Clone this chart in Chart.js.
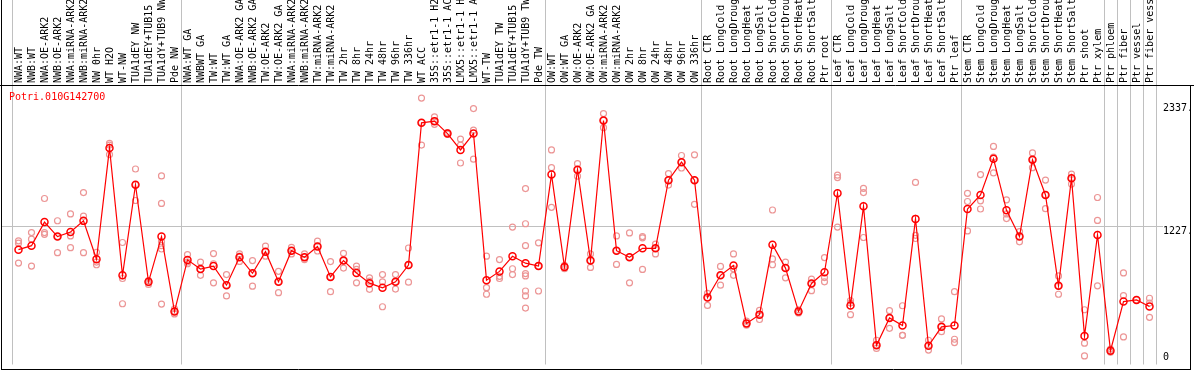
<!DOCTYPE html>
<html>
<head>
<meta charset="utf-8">
<script src="https://cdn.jsdelivr.net/npm/chart.js@4.4.1/dist/chart.umd.min.js"></script>
<style>
  html, body { margin: 0; padding: 0; background: #fff; }
  canvas { display: block; }
</style>
</head>
<body>
<canvas id="exprChart" width="1194" height="370"></canvas>
<script>
const geneName = 'Potri.010G142700';

const sampleLabels = [
  'NWA:WT', 'NWB:WT', 'NWA:OE-ARK2', 'NWB:OE-ARK2', 'NWA:miRNA-ARK2', 'NWB:miRNA-ARK2',
  'NW 0hr', 'WT H2O', 'WT-NW', 'TUA1dEY NW', 'TUA1dEY+TUB15', 'TUA1dY+TUB9 NW', 'Pde NW',
  'NWA:WT GA', 'NWBWT GA', 'TW:WT', 'TW:WT GA', 'NWA:OE-ARK2 GA', 'NWB:OE-ARK2 GA',
  'TW:OE-ARK2', 'TW:OE-ARK2 GA', 'NWA:miRNA-ARK2', 'NWB:miRNA-ARK2', 'TW:miRNA-ARK2', 'TW:miRNA-ARK2',
  'TW 2hr', 'TW 8hr', 'TW 24hr', 'TW 48hr', 'TW 96hr', 'TW 336hr', 'WT ACC',
  '35S::etr1-1 H2', '35S::etr1-1 AC', 'LMX5::etr1-1 H', 'LMX5::etr1-1 A', 'WT-TW',
  'TUA1dEY TW', 'TUA1dEY+TUB15', 'TUA1dY+TUB9 TW', 'Pde TW',
  'OW:WT', 'OW:WT GA', 'OW:OE-ARK2', 'OW:OE-ARK2 GA', 'OW:miRNA-ARK2', 'OW:miRNA-ARK2',
  'OW 2hr', 'OW 8hr', 'OW 24hr', 'OW 48hr', 'OW 96hr', 'OW 336hr',
  'Root CTR', 'Root LongCold', 'Root LongDroug', 'Root LongHeat', 'Root LongSalt',
  'Root ShortCold', 'Root ShortDrou', 'Root ShortHeat', 'Root ShortSalt', 'Ptr root',
  'Leaf CTR', 'Leaf LongCold', 'Leaf LongDroug', 'Leaf LongHeat', 'Leaf LongSalt',
  'Leaf ShortCold', 'Leaf ShortDrou', 'Leaf ShortHeat', 'Leaf ShortSalt', 'Ptr leaf',
  'Stem CTR', 'Stem LongCold', 'Stem LongDroug', 'Stem LongHeat', 'Stem LongSalt',
  'Stem ShortCold', 'Stem ShortDrou', 'Stem ShortHeat', 'Stem ShortSalt',
  'Ptr shoot', 'Ptr xylem', 'Ptr phloem', 'Ptr fiber', 'Ptr vessel', 'Ptr fiber vess'
];

const meanValues = [
  1014, 1050, 1263, 1132, 1174, 1274, 928, 1931, 783, 1600, 724, 1132, 457,
  922, 839, 866, 694, 946, 801, 996, 724, 1005, 946, 1043, 768, 916, 804, 712, 670, 724, 875,
  2159, 2174, 2062, 1914, 2062, 739, 818, 954, 892, 866,
  1692, 857, 1736, 916, 2180, 1005, 946, 1026, 1026, 1641, 1804, 1641,
  582, 783, 872, 348, 428, 1058, 848, 457, 709, 810,
  1523, 511, 1405, 152, 398, 330, 1292, 147, 318, 330,
  1381, 1508, 1834, 1369, 1132, 1825, 1508, 688, 1659, 235, 1147, 102, 546, 561, 502
];

// one small list of replicate values per sample
const replicateValues = [
  [1094, 1073, 893], [1168, 1109, 866], [1476, 1168, 1153], [1275, 1132, 987],
  [1337, 1138, 1032], [1529, 1316, 987], [990, 902, 878], [1973, 1958, 1872],
  [1079, 754, 526], [1742, 1600, 1458], [736, 715, 700],
  [1680, 1431, 1085, 1050, 1020, 523], [481, 458, 434],
  [970, 902, 887], [902, 837, 783], [979, 887, 715], [789, 694, 597],
  [976, 955, 908], [916, 801, 685], [1047, 996, 955], [819, 724, 626],
  [1035, 1005, 976], [976, 946, 925], [1091, 1044, 1002], [907, 768, 635],
  [981, 916, 848], [866, 837, 715], [760, 730, 656], [789, 724, 499],
  [789, 724, 659], [1029, 875, 721], [2382, 2160, 1958], [2213, 2174, 2145],
  [2071, 2062, 2056], [2012, 1958, 1796], [2287, 2092, 1831], [955, 671, 612],
  [925, 774, 754], [1218, 842, 789], [1565, 1248, 1050, 798, 777, 641, 597, 487],
  [1076, 866, 641],
  [1914, 1754, 1396], [872, 857, 842], [1790, 1736, 1677], [976, 916, 854],
  [2242, 2180, 2115], [1138, 1005, 881], [1165, 946, 715], [1132, 1121, 836],
  [1064, 1026, 976], [1701, 1642, 1597], [1864, 1804, 1751], [1870, 1642, 1423],
  [620, 582, 511], [863, 783, 694], [976, 842, 783], [369, 348, 333],
  [466, 428, 384], [1372, 931, 878], [902, 848, 760], [472, 458, 443],
  [748, 709, 644], [943, 762, 724],
  [1686, 1665, 1218], [555, 532, 428], [1568, 1529, 1124], [197, 153, 123],
  [464, 398, 304], [508, 241, 241], [1621, 1144, 1115], [197, 147, 108],
  [389, 318, 274], [635, 206, 176],
  [1523, 1449, 1183], [1692, 1455, 1381], [1946, 1849, 1707], [1464, 1337, 1295],
  [1177, 1132, 1085], [1887, 1825, 1754], [1642, 1508, 1384], [777, 688, 612],
  [1695, 1659, 1606], [472, 170, 55], [1485, 1278, 688], [117, 102, 88],
  [804, 600, 227], [561], [576, 532, 404]
];

// first sample of each block, a grey separator is drawn on its left
const groupStarts = [0, 13, 41, 53, 63, 73, 84, 85, 86, 87];

const yTickValues = [0, 1227, 2337];
const yTickLabels = ['0', '1227.', '2337.'];

const monoFont = "'DejaVu Sans Mono', 'Liberation Mono', monospace";
const gridGrey = '#c0c0c0';

const maxReps = Math.max(...replicateValues.map(r => r.length));
const repDatasets = [];
for (let k = 0; k < maxReps; k++) {
    repDatasets.push({
        data: replicateValues.map(r => (r[k] !== undefined ? r[k] : null)),
        showLine: false,
        pointRadius: 3,
        pointBorderWidth: 1.2,
        pointBorderColor: 'rgb(236, 150, 150)',
        pointBackgroundColor: 'rgba(0,0,0,0)',
        order: 1
    });
}

const framePlugin = {
    id: 'frame',
    afterDraw(chart) {
        const ctx = chart.ctx;
        const area = chart.chartArea;
        const yScale = chart.scales.y;
        ctx.save();

        // grey 1227 line runs on to the left frame edge
        const gy = Math.round(yScale.getPixelForValue(1227)) + 0.5;
        ctx.strokeStyle = gridGrey;
        ctx.lineWidth = 1;
        ctx.beginPath();
        ctx.moveTo(2, gy);
        ctx.lineTo(area.left, gy);
        ctx.stroke();

        // black frame
        ctx.strokeStyle = '#000';
        ctx.beginPath();
        ctx.moveTo(0, 85.5); ctx.lineTo(1194, 85.5);
        ctx.moveTo(1.5, 0); ctx.lineTo(1.5, 370);
        ctx.moveTo(1, 369.5); ctx.lineTo(1191, 369.5);
        ctx.moveTo(1190.5, 85); ctx.lineTo(1190.5, 370);
        ctx.stroke();

        // right axis labels, text top sits on the value, clamped at the bottom
        ctx.font = '10px ' + monoFont;
        ctx.fillStyle = '#000';
        ctx.textAlign = 'left';
        ctx.textBaseline = 'top';
        yTickValues.forEach((v, i) => {
            const py = Math.min(yScale.getPixelForValue(v), area.bottom - 12);
            ctx.fillText(yTickLabels[i], area.right + 7, py);
        });

        // gene name
        ctx.fillStyle = '#ff0000';
        ctx.textBaseline = 'middle';
        ctx.fillText(geneName, 9, 97.5);
        ctx.restore();
    }
};

new Chart(document.getElementById('exprChart'), {
    type: 'line',
    data: {
        labels: sampleLabels,
        datasets: [{
            data: meanValues,
            borderColor: '#ff0000',
            borderWidth: 1.2,
            tension: 0,
            pointRadius: 3.5,
            pointBorderWidth: 1.5,
            pointBorderColor: '#ff0000',
            pointBackgroundColor: 'rgba(0,0,0,0)',
            order: 0
        }, ...repDatasets]
    },
    options: {
        responsive: false,
        animation: false,
        layout: { padding: { left: 12, right: 0, top: 0, bottom: 1 } },
        plugins: {
            legend: { display: false },
            tooltip: { enabled: false }
        },
        scales: {
            x: {
                type: 'category',
                position: 'top',
                offset: true,
                border: { display: false },
                grid: {
                    offset: true,
                    lineWidth: 1,
                    tickLength: 85,
                    color: (c) => (c.index === undefined || groupStarts.includes(c.index)) ? gridGrey : 'rgba(0,0,0,0)'
                },
                ticks: {
                    autoSkip: false,
                    minRotation: 90,
                    maxRotation: 90,
                    padding: -83,
                    labelOffset: 12.5,
                    color: '#000',
                    font: { family: monoFont, size: 10 }
                },
                afterFit: (scale) => { scale.height = 85; }
            },
            y: {
                position: 'right',
                min: -22,
                max: 2500,
                border: { display: false },
                afterBuildTicks: (scale) => {
                    scale.ticks = yTickValues.map(v => ({ value: v }));
                },
                grid: {
                    tickLength: 7,
                    color: (c) => (c.tick && c.tick.value === 1227) ? gridGrey : 'rgba(0,0,0,0)'
                },
                ticks: { display: false },
                afterFit: (scale) => { scale.width = 38; }
            }
        }
    },
    plugins: [framePlugin]
});
</script>
</body>
</html>
